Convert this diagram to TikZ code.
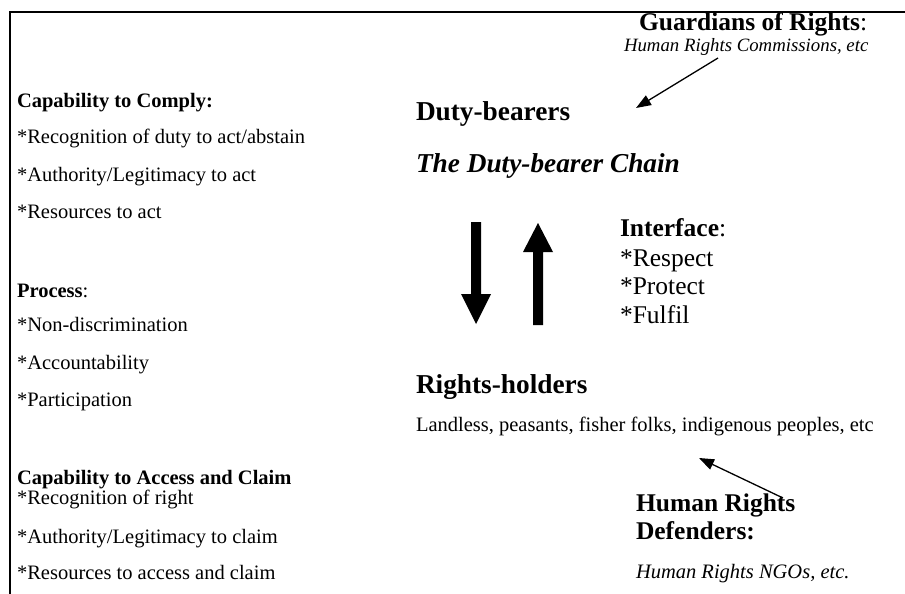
\documentclass[tikz,border=0pt]{standalone}
\usepackage{fontspec}
\setmainfont{Liberation Serif}
\usetikzlibrary{arrows.meta}
\tikzset{
  txt/.style={anchor=base west,inner sep=0pt,outer sep=0pt},
  small/.style={txt,font=\fontsize{20.5}{24}\selectfont},
  smallbf/.style={txt,font=\fontsize{20.5}{24}\selectfont\bfseries},
  big/.style={txt,font=\fontsize{27.3}{32}\selectfont\bfseries},
  bigit/.style={txt,font=\fontsize{27.3}{32}\selectfont\bfseries\itshape},
  mid/.style={txt,font=\fontsize{25.5}{30}\selectfont},
  midbf/.style={txt,font=\fontsize{25.5}{30}\selectfont\bfseries},
  itsmall/.style={txt,font=\fontsize{18.8}{22}\selectfont\itshape},
  itnorm/.style={txt,font=\fontsize{20.5}{24}\selectfont\itshape},
  frame/.style={line width=2pt},
  pointer/.style={line width=1.3pt,-{Triangle[length=15pt,width=11pt]}},
  blockarrow/.style={fill=black,draw=none}
}
\begin{document}
\begin{tikzpicture}[x=1pt,y=-1pt]
\useasboundingbox (0,0) rectangle (905,594);
% frame
\draw[frame] (10,594) -- (10,12) -- (905,12);

% left column
\node[smallbf] (cc) at (17,107) {Capability to Comply:};
\node[small] (cc1) at (17,143) {*Recognition of duty to act/abstain};
\node[small] (cc2) at (17,181) {*Authority/Legitimacy to act};
\node[small] (cc3) at (17,218) {*Resources to act};

\node[small] (pr) at (17,297) {\textbf{Process}:};
\node[small] (pr1) at (17,331) {*Non-discrimination};
\node[small] (pr2) at (17,369) {*Accountability};
\node[small] (pr3) at (17,406) {*Participation};

\node[smallbf] (ca) at (17,484) {Capability to Access and Claim};
\node[small] (ca1) at (17,504) {*Recognition of right};
\node[small] (ca2) at (17,543) {*Authority/Legitimacy to claim};
\node[small] (ca3) at (17,579) {*Resources to access and claim};

% right column
\node[mid] (gr) at (639,31) {\textbf{Guardians of Rights}:};
\node[itsmall] (hrc) at (624,52) {Human Rights Commissions, etc};
\node[big] (db) at (416,120) {Duty-bearers};
\node[bigit] (dbc) at (416,172) {The Duty-bearer Chain};

\node[mid] (if) at (620,236) {\textbf{Interface}:};
\node[mid] (if1) at (620,266) {*Respect};
\node[mid] (if2) at (620,294) {*Protect};
\node[mid] (if3) at (620,323) {*Fulfil};

\node[big] (rh) at (416,393) {Rights-holders};
\node[small] (rhl) at (416,431) {Landless, peasants, fisher folks, indigenous peoples, etc};

\node[midbf] (hrd1) at (636,511) {Human Rights};
\node[midbf] (hrd2) at (636,539) {Defenders:};
\node[itnorm] (ngo) at (636,578) {Human Rights NGOs, etc.};

% pointer arrows
\coordinate (gtail) at (718,58);
\coordinate (gtip) at (636,108);
\draw[pointer] (gtail) -- (gtip);
\coordinate (dtail) at (783,498);
\coordinate (dtip) at (699,458);
\draw[pointer] (dtail) -- (dtip);

% block arrows
\fill[blockarrow] (471,222) -- (481,222) -- (481,294) -- (491,294) -- (476,324) -- (461,294) -- (471,294) -- cycle;
\fill[blockarrow] (538,223) -- (553,252) -- (543,252) -- (543,325) -- (533,325) -- (533,252) -- (523,252) -- cycle;
\end{tikzpicture}
\end{document}
